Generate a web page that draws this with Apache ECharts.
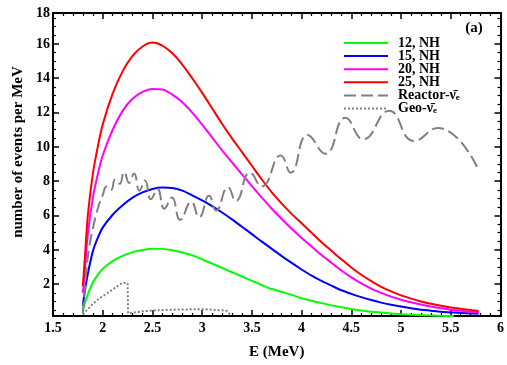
<!DOCTYPE html>
<html><head><meta charset="utf-8">
<script src="https://cdn.jsdelivr.net/npm/echarts@6/dist/echarts.min.js"></script>
<style>html,body{margin:0;padding:0;background:#fff}#c{width:507px;height:365px}</style>
</head><body><div id="c"></div>
<script>
// ---------- data ----------
const energyNH = [1.8,1.82,1.85,1.9,1.95,2.0,2.1,2.2,2.3,2.4,2.5,2.6,2.7,2.8,2.9,3.0,3.1,3.2,3.3,3.4,3.5,3.6,3.7,3.8,3.9,4.0,4.1,4.2,4.3,4.4,4.5,4.6,4.7,4.8,4.9,5.0,5.1,5.2,5.3,5.4,5.5,5.6,5.7,5.78];
const nh25 = [1.9,3.5,6.0,8.4,10.0,11.3,13.1,14.4,15.3,15.85,16.08,15.9,15.45,14.8,14.0,13.15,12.25,11.35,10.5,9.7,8.9,8.1,7.35,6.7,6.1,5.55,5.0,4.45,3.95,3.45,2.98,2.55,2.18,1.85,1.58,1.35,1.16,1.0,0.86,0.75,0.65,0.57,0.5,0.44];
const nh20 = [1.5,2.8,4.9,7.0,8.4,9.5,11.0,12.1,12.8,13.2,13.38,13.35,13.05,12.6,12.0,11.3,10.55,9.8,9.1,8.4,7.72,7.05,6.4,5.8,5.23,4.7,4.2,3.7,3.25,2.8,2.4,2.05,1.75,1.5,1.28,1.1,0.95,0.82,0.7,0.6,0.52,0.45,0.4,0.36];
const nh15 = [0.75,1.6,2.6,3.9,4.7,5.3,6.05,6.6,7.05,7.35,7.55,7.63,7.6,7.45,7.18,6.88,6.55,6.18,5.78,5.35,4.92,4.48,4.06,3.64,3.24,2.86,2.5,2.2,1.92,1.65,1.44,1.25,1.08,0.93,0.8,0.7,0.6,0.52,0.46,0.4,0.36,0.32,0.3,0.28];
const energy12 = [1.8,1.82,1.85,1.9,1.95,2.0,2.1,2.2,2.3,2.4,2.5,2.6,2.7,2.8,2.9,3.0,3.1,3.2,3.3,3.4,3.5,3.6,3.7,3.8,3.9,4.0,4.1,4.2,4.3,4.4,4.5,4.6,4.7,4.8,4.9,5.0,5.1,5.2,5.3,5.4,5.53];
const nh12 = [0.45,0.9,1.4,2.1,2.55,2.9,3.35,3.65,3.87,4.0,4.07,4.06,3.98,3.85,3.68,3.45,3.2,2.95,2.7,2.45,2.2,1.95,1.72,1.55,1.38,1.18,1.04,0.9,0.77,0.66,0.56,0.47,0.4,0.35,0.3,0.25,0.22,0.2,0.18,0.16,0.15];
const energyReactor = [1.8,1.83,1.86,1.9,1.95,2.0,2.04,2.085,2.125,2.17,2.215,2.265,2.315,2.37,2.425,2.485,2.55,2.62,2.695,2.78,2.89,2.97,3.07,3.14,3.26,3.34,3.48,3.6,3.79,3.89,4.06,4.24,4.44,4.62,4.88,5.13,5.37,5.78];
const reactor = [0.3,2.4,4.0,5.2,6.4,7.2,7.7,7.5,8.1,7.85,8.55,7.9,8.45,7.45,8.05,6.95,7.55,6.4,7.05,5.75,6.8,5.9,7.15,6.3,7.65,6.85,8.5,7.7,9.5,8.5,10.7,9.6,11.7,10.45,12.1,10.35,11.1,8.65];
const energyGeo = [1.8,1.85,1.9,1.95,2.0,2.05,2.1,2.15,2.2,2.25,2.255,2.3,2.4,2.5,2.6,2.8,3.0,3.1,3.2,3.25,3.29];
const geo = [0.25,0.55,0.85,1.1,1.3,1.5,1.7,1.9,2.1,2.05,0.3,0.35,0.42,0.47,0.5,0.53,0.55,0.52,0.48,0.45,0.15];
const seriesNames = ['12, NH','15, NH','20, NH','25, NH','Reactor-ν̄e','Geo-ν̄e'];
const xTickLabels = [1.5,2,2.5,3,3.5,4,4.5,5,5.5,6];
const yTickLabels = [2,4,6,8,10,12,14,16,18];
// ---------- layout ----------
const FONT = '"Liberation Serif", "DejaVu Serif", serif';
const xMin = 1.5, xMax = 6, yMin = 0.15, yMax = 17.8;
const yLabelPos = yTickLabels.map(v => Math.min(v, yMax));
const yMinor = [];
for (let v = 0.5; v < yMax; v += 0.5) { if (v % 2 !== 0) yMinor.push(v); }
const pairs = (xs, ys) => xs.map((x, i) => [x, ys[i]]);

const axisLine = {show: true, lineStyle: {color: '#000', width: 2}};
const labelStyle = {fontFamily: FONT, fontWeight: 'bold', fontSize: 14, color: '#000'};
function xAx(pos, showLabel) {
  return {
    type: 'value', position: pos, min: xMin, max: xMax, interval: 0.5,
    axisLine, splitLine: {show: false},
    axisTick: {show: true, inside: true, length: 6, lineStyle: {color: '#000', width: 1.5}},
    minorTick: {show: true, splitNumber: 5, length: 3, lineStyle: {color: '#000', width: 1.2}},
    axisLabel: Object.assign({show: showLabel, margin: 5, showMinLabel: true, showMaxLabel: true,
      formatter: v => { const t = xTickLabels.find(u => Math.abs(u - v) < 1e-6); return t === undefined ? '' : String(t); }}, labelStyle)
  };
}
function yAx(pos, major, showLabel) {
  return {
    type: 'value', position: pos, offset: 0, min: yMin, max: yMax,
    axisLine, splitLine: {show: false},
    axisTick: {show: true, inside: true, length: major ? 6 : 3, customValues: major ? yLabelPos : yMinor,
      lineStyle: {color: '#000', width: major ? 1.5 : 1.2}},
    axisLabel: Object.assign({show: showLabel, margin: 3, customValues: yLabelPos,
      formatter: v => { const i = yLabelPos.findIndex(u => Math.abs(u - v) < 1e-6); return i < 0 ? '' : String(yTickLabels[i]); }}, labelStyle)
  };
}
const colors = ['#00ff00', '#0000ff', '#ff00ff', '#ff0000', '#808080', '#808080'];
function lineSeries(i, data, type, width) {
  return {
    name: seriesNames[i], type: 'line', data, xAxisIndex: 0, yAxisIndex: 0,
    showSymbol: false, symbol: 'none', smooth: 0.3, clip: true,
    lineStyle: {color: colors[i], width: width, type: type}, itemStyle: {color: colors[i]},
    emphasis: {disabled: true}, animation: false
  };
}
const chart = echarts.init(document.getElementById('c'), null, {renderer: 'canvas'});
chart.setOption({
  animation: false,
  backgroundColor: '#fff',
  grid: {left: 53, right: 4, top: 13, bottom: 43, containLabel: false},
  xAxis: [
    Object.assign(xAx('bottom', true), {name: 'E (MeV)', nameLocation: 'middle', nameGap: 29,
      nameTextStyle: {fontFamily: FONT, fontWeight: 'bold', fontSize: 15, color: '#000'}}),
    xAx('top', false)
  ],
  yAxis: [yAx('left', true, true), yAx('left', false, false), yAx('right', true, false), yAx('right', false, false)],
  legend: {
    orient: 'vertical', left: 343, top: 36, padding: 0, itemWidth: 44, itemHeight: 12.4, itemGap: -0.9,
    data: seriesNames, selectedMode: false, itemStyle: {opacity: 0},
    textStyle: {fontFamily: FONT, fontWeight: 'bold', fontSize: 14, color: '#000', lineHeight: 12, padding: [0, 0, 0, 5],
      rich: {
        t: {fontFamily: FONT, fontWeight: 'bold', fontSize: 14, color: '#000', lineHeight: 12},
        nu: {fontFamily: FONT, fontWeight: 'bold', fontSize: 14, color: '#000', lineHeight: 12},
        sub: {fontFamily: FONT, fontWeight: 'bold', fontSize: 9, color: '#000', lineHeight: 12, padding: [5, 0, 0, 0]}
      }},
    formatter: name => {
      if (name.indexOf('Reactor') === 0) return '{t|Reactor-}{nu|ν̄}{sub|e}';
      if (name.indexOf('Geo') === 0) return '{t|Geo-}{nu|ν̄}{sub|e}';
      return '{t|' + name + '}';
    }
  },
  graphic: [
    {type: 'text', x: 18.5, y: 152, rotation: Math.PI / 2,
      style: {text: 'number of events per MeV', font: 'bold 15px ' + FONT, fill: '#000', align: 'center', verticalAlign: 'middle'}},
    {type: 'text', x: 474, y: 28,
      style: {text: '(a)', font: 'bold 15px ' + FONT, fill: '#000', align: 'center', verticalAlign: 'middle'}}
  ],
  series: [
    lineSeries(0, pairs(energy12, nh12), 'solid', 2),
    lineSeries(1, pairs(energyNH, nh15), 'solid', 2),
    lineSeries(2, pairs(energyNH, nh20), 'solid', 2),
    lineSeries(3, pairs(energyNH, nh25), 'solid', 2),
    Object.assign(lineSeries(4, pairs(energyReactor, reactor), [12, 5], 2), {smooth: 0.5}),
    Object.assign(lineSeries(5, pairs(energyGeo, geo), [2, 2], 2), {smooth: false})
  ]
});
</script></body></html>
